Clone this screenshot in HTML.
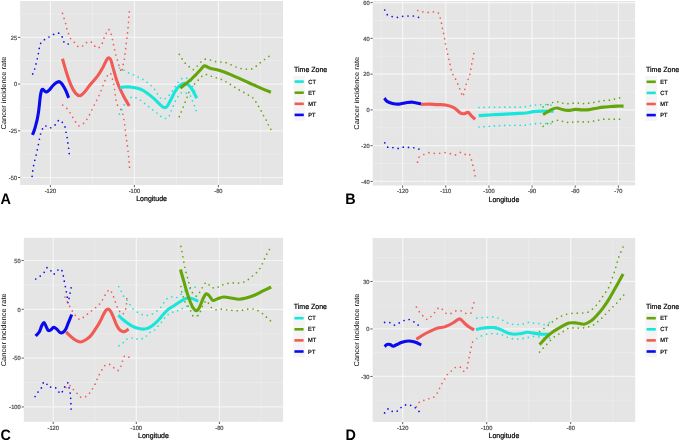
<!DOCTYPE html>
<html><head><meta charset="utf-8"><style>
html,body{margin:0;padding:0;background:#fff;}
body{width:680px;height:440px;overflow:hidden;}
svg{display:block;font-family:"Liberation Sans", sans-serif;will-change:transform;filter:blur(0.25px);}
svg text{text-rendering:geometricPrecision;}
</style></head><body>
<svg width="680" height="440" viewBox="0 0 680 440">
<rect width="680" height="440" fill="#fff"/>
<clipPath id="clipA"><rect x="20.20" y="1.00" width="262.80" height="184.00"/></clipPath>
<rect x="20.20" y="1.00" width="262.80" height="184.00" fill="#E5E5E5"/>
<g clip-path="url(#clipA)"><line x1="92.40" y1="1.00" x2="92.40" y2="185.00" stroke="#ECECEC" stroke-width="0.8"/><line x1="176.40" y1="1.00" x2="176.40" y2="185.00" stroke="#ECECEC" stroke-width="0.8"/><line x1="260.40" y1="1.00" x2="260.40" y2="185.00" stroke="#ECECEC" stroke-width="0.8"/><line x1="20.20" y1="14.05" x2="283.00" y2="14.05" stroke="#ECECEC" stroke-width="0.8"/><line x1="20.20" y1="60.75" x2="283.00" y2="60.75" stroke="#ECECEC" stroke-width="0.8"/><line x1="20.20" y1="107.45" x2="283.00" y2="107.45" stroke="#ECECEC" stroke-width="0.8"/><line x1="20.20" y1="154.15" x2="283.00" y2="154.15" stroke="#ECECEC" stroke-width="0.8"/><line x1="50.40" y1="1.00" x2="50.40" y2="185.00" stroke="#F5F5F5" stroke-width="1.2"/><line x1="134.40" y1="1.00" x2="134.40" y2="185.00" stroke="#F5F5F5" stroke-width="1.2"/><line x1="218.40" y1="1.00" x2="218.40" y2="185.00" stroke="#F5F5F5" stroke-width="1.2"/><line x1="20.20" y1="37.40" x2="283.00" y2="37.40" stroke="#F5F5F5" stroke-width="1.2"/><line x1="20.20" y1="84.10" x2="283.00" y2="84.10" stroke="#F5F5F5" stroke-width="1.2"/><line x1="20.20" y1="130.80" x2="283.00" y2="130.80" stroke="#F5F5F5" stroke-width="1.2"/><line x1="20.20" y1="177.50" x2="283.00" y2="177.50" stroke="#F5F5F5" stroke-width="1.2"/>
<path d="M32.70 73.90h0M34.66 69.00h0M36.01 63.89h0M37.26 58.76h0M38.36 53.59h0M39.25 48.38h0M40.68 43.32h0M44.45 39.68h0M49.00 37.01h0M53.62 34.47h0M58.69 33.17h0M62.17 36.91h0M63.88 41.87h0M68.20 44.00h0" fill="none" stroke="#0A0AEE" stroke-width="1.70" stroke-linecap="round"/>
<path d="M32.10 176.30h0M32.77 170.94h0M33.58 165.61h0M34.78 160.35h0M36.10 155.12h0M37.26 149.84h0M38.37 144.56h0M39.42 139.27h0M40.55 133.99h0M42.47 128.96h0M45.90 126.01h0M50.71 127.76h0M55.09 124.97h0M58.31 120.65h0M62.33 122.31h0M64.99 126.97h0M66.03 132.26h0M67.11 137.55h0M67.89 142.89h0M68.60 148.24h0M69.20 153.60h0" fill="none" stroke="#0A0AEE" stroke-width="1.70" stroke-linecap="round"/>
<path d="M62.50 13.40h0M64.04 18.47h0M65.61 23.53h0M66.81 28.69h0M68.48 33.72h0M70.60 38.57h0M74.29 42.32h0M77.76 46.29h0M82.64 46.02h0M86.55 42.53h0M91.34 42.20h0M94.75 46.22h0M99.24 47.46h0M102.33 43.20h0M103.99 38.18h0M106.21 33.36h0M108.92 29.68h0M111.30 34.31h0M112.43 39.48h0M113.52 44.67h0M114.65 49.85h0M115.92 54.99h0M117.35 60.09h0M118.89 65.17h0M120.68 70.15h0M122.31 69.60h0M123.23 64.40h0M124.36 59.23h0M125.02 53.97h0M125.66 48.71h0M126.29 43.45h0M126.91 38.19h0M127.52 32.92h0M128.07 27.65h0M128.50 22.37h0M128.89 17.08h0M129.30 11.80h0" fill="none" stroke="#F25A55" stroke-width="1.70" stroke-linecap="round"/>
<path d="M62.70 105.10h0M66.84 108.46h0M70.02 112.74h0M72.74 117.33h0M75.53 121.89h0M79.01 125.82h0M83.54 123.42h0M86.89 119.28h0M89.50 114.63h0M91.89 109.85h0M94.27 105.07h0M96.66 100.29h0M99.05 95.52h0M101.06 90.57h0M102.97 85.59h0M104.95 80.63h0M107.32 75.85h0M110.80 73.96h0M112.44 79.04h0M113.64 84.24h0M114.58 89.50h0M115.24 94.80h0M115.97 100.09h0M117.45 105.19h0M120.74 109.38h0M122.88 114.25h0M123.89 119.49h0M124.70 124.76h0M125.26 130.08h0M125.86 135.38h0M126.65 140.66h0M127.43 145.94h0M128.07 151.25h0M128.62 156.56h0M129.08 161.88h0M129.50 167.20h0" fill="none" stroke="#F25A55" stroke-width="1.70" stroke-linecap="round"/>
<path d="M119.40 68.00h0M124.09 70.27h0M128.60 72.89h0M133.43 74.86h0M138.14 77.08h0M142.84 79.31h0M147.12 82.28h0M151.21 85.52h0M154.62 89.46h0M157.40 93.86h0M160.54 98.00h0M165.19 98.50h0M169.15 95.13h0M172.30 90.97h0M175.18 86.63h0M178.02 82.26h0M181.77 78.70h0M186.78 78.14h0M190.57 81.52h0M192.56 86.34h0M194.49 91.19h0M196.50 96.00h0" fill="none" stroke="#18E6DA" stroke-width="1.70" stroke-linecap="round"/>
<path d="M119.40 114.20h0M121.88 109.63h0M124.16 104.97h0M127.00 100.63h0M131.00 97.39h0M136.00 97.65h0M140.48 100.25h0M144.60 103.40h0M148.65 106.65h0M152.73 109.87h0M156.87 113.00h0M160.82 116.37h0M165.53 118.31h0M169.36 115.58h0M171.24 110.74h0M173.19 105.93h0M175.39 101.22h0M177.94 96.70h0M181.35 92.83h0M186.30 93.14h0M190.52 96.10h0M192.42 100.89h0M194.39 105.70h0M196.10 110.60h0" fill="none" stroke="#18E6DA" stroke-width="1.70" stroke-linecap="round"/>
<path d="M179.30 54.30h0M182.06 58.88h0M185.22 63.19h0M189.23 66.72h0M193.31 69.53h0M197.30 66.00h0M200.88 62.03h0M205.24 59.21h0M210.50 60.07h0M215.61 61.62h0M220.94 62.01h0M226.16 62.71h0M231.06 64.85h0M235.95 66.99h0M241.06 68.56h0M246.37 69.11h0M251.71 68.92h0M256.24 66.22h0M260.24 62.67h0M264.54 59.49h0M268.90 56.40h0" fill="none" stroke="#64A60A" stroke-width="1.70" stroke-linecap="round"/>
<path d="M179.30 116.70h0M181.29 111.88h0M183.19 107.03h0M185.17 102.21h0M187.06 97.35h0M188.88 92.47h0M191.30 87.86h0M194.63 83.88h0M198.24 80.13h0M201.83 76.37h0M206.47 74.60h0M211.41 76.25h0M216.39 77.77h0M221.33 79.42h0M226.00 81.73h0M230.43 84.47h0M234.79 87.33h0M239.31 89.92h0M243.85 92.47h0M248.39 95.03h0M252.78 97.73h0M255.88 101.91h0M258.55 106.39h0M261.17 110.89h0M263.51 115.55h0M266.17 120.03h0M268.34 124.76h0M270.90 129.30h0" fill="none" stroke="#64A60A" stroke-width="1.70" stroke-linecap="round"/>
<path d="M32.4,134.9 C32.7,134.2 33.7,132.1 34.2,130.5 C34.8,128.9 35.2,127.1 35.7,125.3 C36.2,123.5 36.8,121.5 37.2,119.4 C37.7,117.3 38.0,115.2 38.4,112.7 C38.8,110.2 39.1,107.4 39.4,104.6 C39.7,101.8 40.0,98.1 40.4,95.7 C40.8,93.3 41.2,91.3 41.6,90.2 C42.0,89.1 42.3,89.2 42.8,89.3 C43.3,89.4 44.0,90.5 44.6,91.0 C45.2,91.5 45.7,92.2 46.5,92.0 C47.3,91.8 48.2,91.0 49.4,89.8 C50.6,88.6 52.4,85.9 53.9,84.6 C55.4,83.2 57.1,82.0 58.3,81.7 C59.5,81.5 60.3,82.1 61.3,83.1 C62.3,84.1 63.3,86.0 64.2,87.6 C65.1,89.2 66.1,91.1 66.8,92.8 C67.5,94.5 68.3,97.1 68.6,97.9" fill="none" stroke="#0A0AEE" stroke-width="3.10" stroke-linejoin="round"/>
<path d="M62.5,58.8 C63.2,61.2 65.2,68.5 66.6,73.0 C68.0,77.5 69.6,82.1 71.1,85.5 C72.6,88.9 74.2,91.7 75.7,93.4 C77.2,95.1 78.7,96.0 80.2,95.7 C81.7,95.4 83.1,93.7 84.8,91.8 C86.5,89.9 88.4,86.9 90.5,84.3 C92.6,81.7 95.2,79.2 97.3,76.4 C99.4,73.6 101.3,70.3 103.0,67.3 C104.7,64.3 106.2,59.9 107.5,58.6 C108.8,57.3 109.5,57.7 110.5,59.3 C111.5,60.9 112.0,64.4 113.2,68.4 C114.4,72.4 116.0,78.7 117.7,83.2 C119.4,87.8 121.5,91.9 123.4,95.7 C125.3,99.5 128.3,104.3 129.3,106.0" fill="none" stroke="#F25A55" stroke-width="3.10" stroke-linejoin="round"/>
<path d="M120.0,87.5 C120.7,87.4 122.4,87.1 124.1,87.0 C125.8,86.9 128.1,86.8 130.2,87.0 C132.2,87.2 134.3,87.6 136.4,88.1 C138.5,88.6 140.5,89.1 142.5,90.1 C144.5,91.1 146.5,92.7 148.6,94.2 C150.7,95.7 152.9,97.6 154.8,99.3 C156.7,101.0 158.4,103.0 159.9,104.4 C161.4,105.8 162.8,107.2 164.0,107.5 C165.2,107.8 165.8,107.9 167.0,106.5 C168.2,105.1 169.7,101.9 171.1,99.3 C172.5,96.7 173.8,93.3 175.2,91.1 C176.6,88.9 177.8,87.3 179.3,86.0 C180.8,84.7 182.9,83.6 184.4,83.4 C185.9,83.2 187.1,83.9 188.5,85.0 C189.9,86.1 191.2,87.9 192.6,90.1 C194.0,92.3 196.0,96.9 196.7,98.3" fill="none" stroke="#18E6DA" stroke-width="3.10" stroke-linejoin="round"/>
<path d="M180.3,88.1 C181.2,87.4 183.8,85.4 185.5,84.0 C187.2,82.6 188.9,81.4 190.6,79.9 C192.3,78.4 194.0,76.5 195.7,74.8 C197.4,73.1 199.3,71.0 200.8,69.5 C202.3,68.0 202.9,66.1 204.5,65.9 C206.1,65.7 207.5,67.4 210.2,68.2 C212.9,69.0 217.3,69.7 220.5,70.7 C223.7,71.7 226.1,72.7 229.5,74.1 C232.9,75.5 237.1,77.4 240.9,79.1 C244.7,80.8 248.9,82.8 252.3,84.3 C255.7,85.8 258.3,87.1 261.4,88.4 C264.5,89.7 269.3,91.7 270.9,92.3" fill="none" stroke="#64A60A" stroke-width="3.10" stroke-linejoin="round"/>
</g>
<line x1="18.00" y1="37.40" x2="20.20" y2="37.40" stroke="#333" stroke-width="0.80"/>
<text transform="translate(17.10,39.75) scale(1,1.050)" text-anchor="end" font-size="5.70" fill="#4D4D4D" stroke="#4D4D4D" stroke-width="0.20">25</text>
<line x1="18.00" y1="84.10" x2="20.20" y2="84.10" stroke="#333" stroke-width="0.80"/>
<text transform="translate(17.10,86.45) scale(1,1.050)" text-anchor="end" font-size="5.70" fill="#4D4D4D" stroke="#4D4D4D" stroke-width="0.20">0</text>
<line x1="18.00" y1="130.80" x2="20.20" y2="130.80" stroke="#333" stroke-width="0.80"/>
<text transform="translate(17.10,133.15) scale(1,1.050)" text-anchor="end" font-size="5.70" fill="#4D4D4D" stroke="#4D4D4D" stroke-width="0.20">-25</text>
<line x1="18.00" y1="177.50" x2="20.20" y2="177.50" stroke="#333" stroke-width="0.80"/>
<text transform="translate(17.10,179.85) scale(1,1.050)" text-anchor="end" font-size="5.70" fill="#4D4D4D" stroke="#4D4D4D" stroke-width="0.20">-50</text>
<line x1="50.40" y1="185.00" x2="50.40" y2="187.20" stroke="#333" stroke-width="0.80"/>
<text transform="translate(50.40,192.90) scale(1,1.050)" text-anchor="middle" font-size="5.70" fill="#4D4D4D" stroke="#4D4D4D" stroke-width="0.20">-120</text>
<line x1="134.40" y1="185.00" x2="134.40" y2="187.20" stroke="#333" stroke-width="0.80"/>
<text transform="translate(134.40,192.90) scale(1,1.050)" text-anchor="middle" font-size="5.70" fill="#4D4D4D" stroke="#4D4D4D" stroke-width="0.20">-100</text>
<line x1="218.40" y1="185.00" x2="218.40" y2="187.20" stroke="#333" stroke-width="0.80"/>
<text transform="translate(218.40,192.90) scale(1,1.050)" text-anchor="middle" font-size="5.70" fill="#4D4D4D" stroke="#4D4D4D" stroke-width="0.20">-80</text>
<text transform="translate(151.60,201.00) scale(1,1.050)" text-anchor="middle" font-size="7.00" fill="#000" stroke="#000" stroke-width="0.20">Longitude</text>
<text transform="translate(6.00,93.00) rotate(-90)" text-anchor="middle" font-size="7.00" fill="#000" textLength="73.0" lengthAdjust="spacingAndGlyphs">Cancer incidence rate</text>
<text transform="translate(294.00,72.10) scale(1,1.050)" font-size="7.00" fill="#000" stroke="#000" stroke-width="0.20">Time Zone</text>
<rect x="293.50" y="76.00" width="11.5" height="44.6" fill="#F5F5F5"/>
<line x1="294.60" y1="81.60" x2="303.80" y2="81.60" stroke="#18E6DA" stroke-width="2.6"/>
<text transform="translate(308.30,83.65) scale(1,1.050)" font-size="5.70" fill="#000" stroke="#000" stroke-width="0.20">CT</text>
<line x1="294.60" y1="92.70" x2="303.80" y2="92.70" stroke="#64A60A" stroke-width="2.6"/>
<text transform="translate(308.30,94.75) scale(1,1.050)" font-size="5.70" fill="#000" stroke="#000" stroke-width="0.20">ET</text>
<line x1="294.60" y1="103.80" x2="303.80" y2="103.80" stroke="#F25A55" stroke-width="2.6"/>
<text transform="translate(308.30,105.85) scale(1,1.050)" font-size="5.70" fill="#000" stroke="#000" stroke-width="0.20">MT</text>
<line x1="294.60" y1="114.90" x2="303.80" y2="114.90" stroke="#0A0AEE" stroke-width="2.6"/>
<text transform="translate(308.30,116.95) scale(1,1.050)" font-size="5.70" fill="#000" stroke="#000" stroke-width="0.20">PT</text>
<text transform="translate(0.60,204.00) scale(1,1.050)" font-weight="bold" font-size="14.40" fill="#000">A</text>
<clipPath id="clipB"><rect x="372.70" y="1.00" width="262.40" height="184.50"/></clipPath>
<rect x="372.70" y="1.00" width="262.40" height="184.50" fill="#E5E5E5"/>
<g clip-path="url(#clipB)"><line x1="381.02" y1="1.00" x2="381.02" y2="185.50" stroke="#ECECEC" stroke-width="0.8"/><line x1="424.18" y1="1.00" x2="424.18" y2="185.50" stroke="#ECECEC" stroke-width="0.8"/><line x1="467.34" y1="1.00" x2="467.34" y2="185.50" stroke="#ECECEC" stroke-width="0.8"/><line x1="510.50" y1="1.00" x2="510.50" y2="185.50" stroke="#ECECEC" stroke-width="0.8"/><line x1="553.66" y1="1.00" x2="553.66" y2="185.50" stroke="#ECECEC" stroke-width="0.8"/><line x1="596.82" y1="1.00" x2="596.82" y2="185.50" stroke="#ECECEC" stroke-width="0.8"/><line x1="372.70" y1="20.50" x2="635.10" y2="20.50" stroke="#ECECEC" stroke-width="0.8"/><line x1="372.70" y1="56.26" x2="635.10" y2="56.26" stroke="#ECECEC" stroke-width="0.8"/><line x1="372.70" y1="92.02" x2="635.10" y2="92.02" stroke="#ECECEC" stroke-width="0.8"/><line x1="372.70" y1="127.78" x2="635.10" y2="127.78" stroke="#ECECEC" stroke-width="0.8"/><line x1="372.70" y1="163.54" x2="635.10" y2="163.54" stroke="#ECECEC" stroke-width="0.8"/><line x1="402.60" y1="1.00" x2="402.60" y2="185.50" stroke="#F5F5F5" stroke-width="1.2"/><line x1="445.76" y1="1.00" x2="445.76" y2="185.50" stroke="#F5F5F5" stroke-width="1.2"/><line x1="488.92" y1="1.00" x2="488.92" y2="185.50" stroke="#F5F5F5" stroke-width="1.2"/><line x1="532.08" y1="1.00" x2="532.08" y2="185.50" stroke="#F5F5F5" stroke-width="1.2"/><line x1="575.24" y1="1.00" x2="575.24" y2="185.50" stroke="#F5F5F5" stroke-width="1.2"/><line x1="618.40" y1="1.00" x2="618.40" y2="185.50" stroke="#F5F5F5" stroke-width="1.2"/><line x1="372.70" y1="2.62" x2="635.10" y2="2.62" stroke="#F5F5F5" stroke-width="1.2"/><line x1="372.70" y1="38.38" x2="635.10" y2="38.38" stroke="#F5F5F5" stroke-width="1.2"/><line x1="372.70" y1="74.14" x2="635.10" y2="74.14" stroke="#F5F5F5" stroke-width="1.2"/><line x1="372.70" y1="109.90" x2="635.10" y2="109.90" stroke="#F5F5F5" stroke-width="1.2"/><line x1="372.70" y1="145.66" x2="635.10" y2="145.66" stroke="#F5F5F5" stroke-width="1.2"/><line x1="372.70" y1="181.42" x2="635.10" y2="181.42" stroke="#F5F5F5" stroke-width="1.2"/>
<path d="M384.70 10.00h0M387.27 14.66h0M392.16 16.54h0M397.43 17.28h0M402.67 16.34h0M408.00 15.98h0M413.33 16.00h0M418.50 17.30h0" fill="none" stroke="#0A0AEE" stroke-width="1.70" stroke-linecap="round"/>
<path d="M384.80 142.80h0M387.74 147.16h0M392.92 147.62h0M398.10 148.38h0M403.23 147.15h0M408.51 147.42h0M413.79 147.75h0M418.90 149.10h0" fill="none" stroke="#0A0AEE" stroke-width="1.70" stroke-linecap="round"/>
<path d="M417.80 10.50h0M422.92 11.80h0M428.16 12.40h0M433.39 11.79h0M438.40 13.10h0M440.26 17.99h0M441.46 23.13h0M442.42 28.32h0M443.64 33.46h0M444.59 38.65h0M445.44 43.86h0M446.66 49.00h0M447.72 54.17h0M448.92 59.32h0M450.08 64.47h0M451.11 69.65h0M452.95 74.58h0M455.56 79.17h0M457.76 83.96h0M459.70 88.87h0M461.59 93.80h0M463.61 94.46h0M464.78 89.31h0M466.19 84.23h0M468.07 79.29h0M469.89 74.35h0M470.78 69.14h0M471.72 63.95h0M472.96 58.81h0M473.80 53.60h0" fill="none" stroke="#F25A55" stroke-width="1.70" stroke-linecap="round"/>
<path d="M417.50 162.20h0M419.09 157.09h0M423.82 154.49h0M428.92 152.65h0M434.27 153.36h0M439.70 153.24h0M445.08 152.60h0M450.40 153.63h0M455.53 154.92h0M460.37 152.47h0M465.17 154.41h0M469.81 154.77h0M471.48 159.92h0M472.84 165.18h0M474.20 170.44h0M475.10 175.80h0" fill="none" stroke="#F25A55" stroke-width="1.70" stroke-linecap="round"/>
<path d="M479.00 107.50h0M484.15 107.42h0M489.30 107.34h0M494.46 107.28h0M499.61 107.25h0M504.76 107.21h0M509.91 107.17h0M515.06 107.14h0M520.22 107.07h0M525.35 106.71h0M530.40 105.69h0M535.50 104.98h0M540.64 104.63h0M545.78 104.61h0M550.90 105.20h0" fill="none" stroke="#18E6DA" stroke-width="1.70" stroke-linecap="round"/>
<path d="M479.00 127.00h0M484.14 126.64h0M489.27 126.29h0M494.41 125.97h0M499.55 125.66h0M504.69 125.44h0M509.84 125.35h0M514.99 125.35h0M520.14 125.34h0M525.27 125.06h0M530.36 124.25h0M535.47 123.65h0M540.61 123.35h0M545.75 123.44h0M550.90 123.60h0" fill="none" stroke="#18E6DA" stroke-width="1.70" stroke-linecap="round"/>
<path d="M543.10 106.80h0M547.83 104.60h0M552.61 102.52h0M557.76 101.83h0M562.81 103.04h0M567.97 103.65h0M573.16 103.20h0M578.34 103.12h0M583.52 103.60h0M588.72 103.16h0M593.88 102.43h0M598.99 101.38h0M604.14 100.51h0M609.34 100.13h0M614.45 99.12h0M619.50 97.80h0" fill="none" stroke="#64A60A" stroke-width="1.70" stroke-linecap="round"/>
<path d="M543.10 126.30h0M547.57 123.61h0M552.43 121.71h0M557.43 120.23h0M562.47 121.37h0M567.59 122.34h0M572.79 122.06h0M577.97 121.63h0M583.18 121.94h0M588.40 121.81h0M593.57 121.09h0M598.69 120.04h0M603.83 119.16h0M609.05 119.20h0M614.28 119.20h0M619.50 119.20h0" fill="none" stroke="#64A60A" stroke-width="1.70" stroke-linecap="round"/>
<path d="M384.3,98.1 C384.8,98.6 385.6,100.5 387.0,101.4 C388.4,102.3 390.4,103.0 392.5,103.5 C394.6,104.0 397.0,104.2 399.3,104.1 C401.6,104.0 403.8,103.0 406.1,102.7 C408.4,102.4 410.4,102.0 412.9,102.2 C415.4,102.4 419.7,103.8 421.1,104.1" fill="none" stroke="#0A0AEE" stroke-width="3.10" stroke-linejoin="round"/>
<path d="M421.1,104.4 C422.5,104.4 426.6,104.1 429.3,104.1 C432.0,104.1 434.8,104.5 437.5,104.6 C440.2,104.7 442.9,104.4 445.6,104.9 C448.3,105.4 451.3,106.2 453.8,107.6 C456.3,109.0 458.8,112.1 460.6,113.1 C462.4,114.1 463.5,113.7 464.7,113.6 C465.9,113.5 466.9,111.9 468.0,112.3 C469.1,112.7 470.3,114.6 471.5,115.8 C472.7,117.0 474.5,118.7 475.1,119.3" fill="none" stroke="#F25A55" stroke-width="3.10" stroke-linejoin="round"/>
<path d="M478.6,115.7 C480.9,115.5 487.8,115.1 492.3,114.8 C496.9,114.5 501.4,114.3 505.9,114.1 C510.4,113.9 515.9,113.6 519.5,113.4 C523.1,113.2 525.4,113.0 527.7,112.7 C530.0,112.4 530.9,111.9 533.2,111.6 C535.5,111.3 538.0,111.2 541.4,111.1 C544.8,111.0 551.6,111.1 553.6,111.1" fill="none" stroke="#18E6DA" stroke-width="3.10" stroke-linejoin="round"/>
<path d="M543.1,114.6 C543.8,114.2 545.7,113.0 547.1,112.2 C548.5,111.4 549.7,110.3 551.3,109.6 C552.9,108.9 555.0,108.0 556.9,108.0 C558.8,108.0 560.7,109.2 562.6,109.6 C564.5,110.0 566.1,110.4 568.2,110.4 C570.3,110.4 572.9,109.5 575.3,109.4 C577.7,109.3 580.0,109.9 582.4,109.9 C584.8,109.9 587.0,109.9 589.4,109.6 C591.8,109.3 594.1,108.6 596.5,108.2 C598.9,107.8 601.1,107.4 603.5,107.1 C605.9,106.8 608.2,106.7 610.6,106.5 C613.0,106.3 615.5,106.2 617.7,106.1 C619.9,106.0 622.6,106.1 623.6,106.1" fill="none" stroke="#64A60A" stroke-width="3.10" stroke-linejoin="round"/>
</g>
<line x1="370.50" y1="2.62" x2="372.70" y2="2.62" stroke="#333" stroke-width="0.80"/>
<text transform="translate(369.60,4.97) scale(1,1.050)" text-anchor="end" font-size="5.70" fill="#4D4D4D" stroke="#4D4D4D" stroke-width="0.20">60</text>
<line x1="370.50" y1="38.38" x2="372.70" y2="38.38" stroke="#333" stroke-width="0.80"/>
<text transform="translate(369.60,40.73) scale(1,1.050)" text-anchor="end" font-size="5.70" fill="#4D4D4D" stroke="#4D4D4D" stroke-width="0.20">40</text>
<line x1="370.50" y1="74.14" x2="372.70" y2="74.14" stroke="#333" stroke-width="0.80"/>
<text transform="translate(369.60,76.49) scale(1,1.050)" text-anchor="end" font-size="5.70" fill="#4D4D4D" stroke="#4D4D4D" stroke-width="0.20">20</text>
<line x1="370.50" y1="109.90" x2="372.70" y2="109.90" stroke="#333" stroke-width="0.80"/>
<text transform="translate(369.60,112.25) scale(1,1.050)" text-anchor="end" font-size="5.70" fill="#4D4D4D" stroke="#4D4D4D" stroke-width="0.20">0</text>
<line x1="370.50" y1="145.66" x2="372.70" y2="145.66" stroke="#333" stroke-width="0.80"/>
<text transform="translate(369.60,148.01) scale(1,1.050)" text-anchor="end" font-size="5.70" fill="#4D4D4D" stroke="#4D4D4D" stroke-width="0.20">-20</text>
<line x1="370.50" y1="181.42" x2="372.70" y2="181.42" stroke="#333" stroke-width="0.80"/>
<text transform="translate(369.60,183.77) scale(1,1.050)" text-anchor="end" font-size="5.70" fill="#4D4D4D" stroke="#4D4D4D" stroke-width="0.20">-40</text>
<line x1="402.60" y1="185.50" x2="402.60" y2="187.70" stroke="#333" stroke-width="0.80"/>
<text transform="translate(402.60,193.40) scale(1,1.050)" text-anchor="middle" font-size="5.70" fill="#4D4D4D" stroke="#4D4D4D" stroke-width="0.20">-120</text>
<line x1="445.76" y1="185.50" x2="445.76" y2="187.70" stroke="#333" stroke-width="0.80"/>
<text transform="translate(445.76,193.40) scale(1,1.050)" text-anchor="middle" font-size="5.70" fill="#4D4D4D" stroke="#4D4D4D" stroke-width="0.20">-110</text>
<line x1="488.92" y1="185.50" x2="488.92" y2="187.70" stroke="#333" stroke-width="0.80"/>
<text transform="translate(488.92,193.40) scale(1,1.050)" text-anchor="middle" font-size="5.70" fill="#4D4D4D" stroke="#4D4D4D" stroke-width="0.20">-100</text>
<line x1="532.08" y1="185.50" x2="532.08" y2="187.70" stroke="#333" stroke-width="0.80"/>
<text transform="translate(532.08,193.40) scale(1,1.050)" text-anchor="middle" font-size="5.70" fill="#4D4D4D" stroke="#4D4D4D" stroke-width="0.20">-90</text>
<line x1="575.24" y1="185.50" x2="575.24" y2="187.70" stroke="#333" stroke-width="0.80"/>
<text transform="translate(575.24,193.40) scale(1,1.050)" text-anchor="middle" font-size="5.70" fill="#4D4D4D" stroke="#4D4D4D" stroke-width="0.20">-80</text>
<line x1="618.40" y1="185.50" x2="618.40" y2="187.70" stroke="#333" stroke-width="0.80"/>
<text transform="translate(618.40,193.40) scale(1,1.050)" text-anchor="middle" font-size="5.70" fill="#4D4D4D" stroke="#4D4D4D" stroke-width="0.20">-70</text>
<text transform="translate(503.90,201.50) scale(1,1.050)" text-anchor="middle" font-size="7.00" fill="#000" stroke="#000" stroke-width="0.20">Longitude</text>
<text transform="translate(358.50,93.25) rotate(-90)" text-anchor="middle" font-size="7.00" fill="#000" textLength="73.0" lengthAdjust="spacingAndGlyphs">Cancer incidence rate</text>
<text transform="translate(646.00,72.00) scale(1,1.050)" font-size="7.00" fill="#000" stroke="#000" stroke-width="0.20">Time Zone</text>
<rect x="645.50" y="76.20" width="11.5" height="44.6" fill="#F5F5F5"/>
<line x1="646.60" y1="81.80" x2="655.80" y2="81.80" stroke="#64A60A" stroke-width="2.6"/>
<text transform="translate(660.30,83.85) scale(1,1.050)" font-size="5.70" fill="#000" stroke="#000" stroke-width="0.20">ET</text>
<line x1="646.60" y1="92.90" x2="655.80" y2="92.90" stroke="#18E6DA" stroke-width="2.6"/>
<text transform="translate(660.30,94.95) scale(1,1.050)" font-size="5.70" fill="#000" stroke="#000" stroke-width="0.20">CT</text>
<line x1="646.60" y1="104.00" x2="655.80" y2="104.00" stroke="#F25A55" stroke-width="2.6"/>
<text transform="translate(660.30,106.05) scale(1,1.050)" font-size="5.70" fill="#000" stroke="#000" stroke-width="0.20">MT</text>
<line x1="646.60" y1="115.10" x2="655.80" y2="115.10" stroke="#0A0AEE" stroke-width="2.6"/>
<text transform="translate(660.30,117.15) scale(1,1.050)" font-size="5.70" fill="#000" stroke="#000" stroke-width="0.20">PT</text>
<text transform="translate(345.30,204.00) scale(1,1.050)" font-weight="bold" font-size="14.40" fill="#000">B</text>
<clipPath id="clipC"><rect x="23.80" y="237.80" width="259.30" height="184.00"/></clipPath>
<rect x="23.80" y="237.80" width="259.30" height="184.00" fill="#E5E5E5"/>
<g clip-path="url(#clipC)"><line x1="94.75" y1="237.80" x2="94.75" y2="421.80" stroke="#ECECEC" stroke-width="0.8"/><line x1="177.85" y1="237.80" x2="177.85" y2="421.80" stroke="#ECECEC" stroke-width="0.8"/><line x1="260.95" y1="237.80" x2="260.95" y2="421.80" stroke="#ECECEC" stroke-width="0.8"/><line x1="23.80" y1="284.89" x2="283.10" y2="284.89" stroke="#ECECEC" stroke-width="0.8"/><line x1="23.80" y1="333.71" x2="283.10" y2="333.71" stroke="#ECECEC" stroke-width="0.8"/><line x1="23.80" y1="382.52" x2="283.10" y2="382.52" stroke="#ECECEC" stroke-width="0.8"/><line x1="53.20" y1="237.80" x2="53.20" y2="421.80" stroke="#F5F5F5" stroke-width="1.2"/><line x1="136.30" y1="237.80" x2="136.30" y2="421.80" stroke="#F5F5F5" stroke-width="1.2"/><line x1="219.40" y1="237.80" x2="219.40" y2="421.80" stroke="#F5F5F5" stroke-width="1.2"/><line x1="23.80" y1="260.49" x2="283.10" y2="260.49" stroke="#F5F5F5" stroke-width="1.2"/><line x1="23.80" y1="309.30" x2="283.10" y2="309.30" stroke="#F5F5F5" stroke-width="1.2"/><line x1="23.80" y1="358.12" x2="283.10" y2="358.12" stroke="#F5F5F5" stroke-width="1.2"/><line x1="23.80" y1="406.93" x2="283.10" y2="406.93" stroke="#F5F5F5" stroke-width="1.2"/>
<path d="M35.70 279.00h0M40.23 276.03h0M44.17 272.32h0M46.96 267.72h0M50.96 270.85h0M54.24 273.94h0M57.89 270.00h0M61.97 270.64h0M63.33 275.88h0M64.30 281.21h0M65.34 286.54h0M66.33 291.87h0M67.21 297.21h0M67.84 302.60h0M69.02 298.44h0M70.06 293.12h0M71.10 287.80h0" fill="none" stroke="#0A0AEE" stroke-width="1.70" stroke-linecap="round"/>
<path d="M35.10 396.50h0M38.01 392.03h0M41.39 387.92h0M43.26 382.95h0M46.98 384.23h0M50.66 387.07h0M55.73 387.93h0M58.93 392.06h0M62.36 391.72h0M64.65 386.93h0M67.76 382.82h0M69.07 387.82h0M70.15 393.04h0M70.70 398.34h0M70.90 403.67h0M71.10 409.00h0" fill="none" stroke="#0A0AEE" stroke-width="1.70" stroke-linecap="round"/>
<path d="M65.00 297.00h0M67.28 301.73h0M69.66 306.41h0M72.32 310.95h0M75.25 315.30h0M78.91 319.04h0M83.31 317.41h0M87.42 314.14h0M91.49 310.82h0M95.58 307.53h0M99.54 304.08h0M102.50 299.76h0M105.07 295.18h0M108.01 290.84h0M111.51 292.12h0M113.61 296.93h0M115.35 301.89h0M117.15 306.82h0M119.62 311.44h0M123.37 313.57h0M125.72 308.94h0M126.44 303.74h0M126.80 298.50h0" fill="none" stroke="#F25A55" stroke-width="1.70" stroke-linecap="round"/>
<path d="M65.90 387.50h0M69.95 385.60h0M73.38 389.58h0M77.04 393.35h0M80.59 397.10h0M85.69 396.62h0M89.58 393.11h0M92.51 388.75h0M95.04 384.13h0M97.06 379.28h0M99.32 374.53h0M101.89 369.94h0M104.80 365.57h0M109.70 364.38h0M113.74 367.65h0M118.09 370.46h0M120.92 366.26h0M122.49 361.24h0M124.29 356.31h0M128.90 357.20h0" fill="none" stroke="#F25A55" stroke-width="1.70" stroke-linecap="round"/>
<path d="M118.80 286.60h0M121.30 291.31h0M123.52 296.17h0M126.99 300.19h0M130.01 304.58h0M133.13 308.91h0M137.36 312.13h0M142.10 314.55h0M147.37 315.31h0M152.44 313.83h0M156.90 310.92h0M160.81 307.30h0M163.75 302.86h0M166.99 298.63h0M171.78 296.87h0M176.90 297.49h0M181.07 294.18h0M185.12 290.70h0M189.91 288.40h0M195.10 287.20h0" fill="none" stroke="#18E6DA" stroke-width="1.70" stroke-linecap="round"/>
<path d="M119.10 345.70h0M123.25 342.64h0M126.95 339.05h0M131.94 337.99h0M137.00 338.90h0M142.13 338.71h0M146.44 335.98h0M150.07 332.34h0M154.53 329.99h0M158.00 326.17h0M161.45 322.33h0M164.51 318.18h0M168.12 314.50h0M172.70 312.16h0M177.65 310.72h0M182.35 308.61h0M186.76 305.99h0M191.55 307.53h0M195.04 311.32h0M198.20 315.40h0" fill="none" stroke="#18E6DA" stroke-width="1.70" stroke-linecap="round"/>
<path d="M180.90 246.40h0M181.90 251.62h0M182.88 256.84h0M183.88 262.06h0M184.89 267.27h0M186.02 272.46h0M187.45 277.58h0M188.81 282.71h0M190.33 287.80h0M192.44 292.67h0M196.27 296.21h0M199.61 292.33h0M202.26 287.73h0M205.06 283.23h0M209.04 284.80h0M213.19 287.85h0M218.14 287.05h0M222.87 284.73h0M228.02 283.42h0M233.29 282.95h0M238.60 283.05h0M243.82 282.06h0M248.37 279.38h0M252.46 276.00h0M256.48 272.53h0M259.93 268.51h0M262.32 263.76h0M264.57 258.95h0M266.79 254.13h0M269.40 249.50h0" fill="none" stroke="#64A60A" stroke-width="1.70" stroke-linecap="round"/>
<path d="M180.90 286.50h0M181.75 291.75h0M183.33 296.83h0M185.04 301.86h0M188.07 306.17h0M190.70 310.78h0M192.69 315.70h0M197.37 315.73h0M200.40 311.43h0M202.36 306.50h0M205.02 301.95h0M208.46 303.16h0M211.36 307.49h0M216.07 309.75h0M221.33 309.14h0M226.62 309.73h0M231.90 310.37h0M237.21 310.68h0M242.50 310.21h0M247.72 309.19h0M253.03 309.02h0M258.05 310.67h0M262.48 313.60h0M266.40 317.19h0M270.40 320.70h0" fill="none" stroke="#64A60A" stroke-width="1.70" stroke-linecap="round"/>
<path d="M35.7,335.9 C36.3,335.2 38.4,333.5 39.4,331.8 C40.4,330.1 41.0,327.1 41.8,325.6 C42.5,324.1 43.2,322.5 43.9,322.6 C44.6,322.7 45.2,324.7 45.9,326.0 C46.6,327.3 47.5,330.0 48.3,330.6 C49.1,331.2 49.9,330.4 50.8,329.9 C51.7,329.4 52.7,327.5 53.7,327.4 C54.7,327.3 55.8,328.3 56.8,329.1 C57.8,329.9 58.8,331.8 59.8,332.4 C60.8,332.9 61.9,333.0 62.9,332.4 C63.9,331.8 65.1,330.3 66.0,328.7 C66.9,327.1 67.5,325.0 68.4,322.6 C69.4,320.2 71.2,315.8 71.7,314.4" fill="none" stroke="#0A0AEE" stroke-width="3.10" stroke-linejoin="round"/>
<path d="M66.0,331.8 C66.7,332.5 68.6,334.5 70.1,335.9 C71.6,337.3 73.5,339.0 75.2,340.0 C76.9,341.0 78.6,342.0 80.3,342.0 C82.0,342.0 83.7,341.0 85.4,340.0 C87.1,339.0 88.9,337.8 90.6,335.9 C92.3,334.0 94.1,331.1 95.7,328.7 C97.3,326.3 98.9,323.6 100.1,321.4 C101.3,319.1 102.1,317.1 103.1,315.2 C104.1,313.3 105.2,311.1 106.1,310.1 C107.0,309.1 107.8,308.8 108.6,309.1 C109.4,309.5 110.3,310.7 111.2,312.2 C112.1,313.7 113.0,316.1 113.9,318.3 C114.8,320.5 115.7,323.4 116.8,325.5 C117.9,327.6 119.2,329.6 120.5,330.6 C121.8,331.6 123.2,331.9 124.5,331.6 C125.8,331.4 127.9,329.5 128.6,329.1" fill="none" stroke="#F25A55" stroke-width="3.10" stroke-linejoin="round"/>
<path d="M118.4,315.2 C119.1,315.9 121.1,318.1 122.5,319.3 C123.9,320.5 125.1,321.3 126.6,322.4 C128.1,323.5 130.0,324.9 131.7,325.9 C133.4,326.8 134.9,327.6 136.8,328.1 C138.7,328.6 141.1,329.1 143.0,329.1 C144.9,329.1 146.4,328.8 148.1,328.1 C149.8,327.4 151.5,326.3 153.2,325.0 C154.9,323.7 156.6,322.1 158.3,320.3 C160.0,318.5 161.7,316.1 163.4,314.2 C165.1,312.3 166.8,310.5 168.5,309.1 C170.2,307.7 171.9,307.1 173.6,306.0 C175.3,304.9 177.0,303.6 178.7,302.5 C180.4,301.4 182.6,300.1 183.9,299.4 C185.2,298.7 185.6,298.5 186.8,298.3 C188.0,298.1 189.5,298.1 190.9,298.3 C192.3,298.5 193.9,299.2 195.1,299.7 C196.3,300.2 197.7,301.1 198.2,301.4" fill="none" stroke="#18E6DA" stroke-width="3.10" stroke-linejoin="round"/>
<path d="M180.5,269.5 C181.0,271.5 182.7,277.4 183.8,281.2 C184.8,285.1 185.9,289.0 187.0,292.5 C188.1,296.0 189.4,299.8 190.5,302.5 C191.6,305.2 192.7,307.4 193.8,308.8 C194.8,310.1 196.0,310.9 197.0,310.5 C198.0,310.1 199.0,308.2 200.0,306.2 C201.0,304.3 202.0,300.8 203.0,298.8 C204.0,296.7 205.2,294.2 206.2,293.8 C207.3,293.3 208.4,295.1 209.5,296.2 C210.6,297.4 211.7,300.1 213.0,300.5 C214.3,300.9 215.7,299.3 217.5,298.8 C219.3,298.2 221.5,297.1 223.8,297.0 C226.0,296.9 228.8,297.6 231.2,298.0 C233.8,298.4 236.2,299.2 238.8,299.2 C241.2,299.2 243.8,298.6 246.2,298.0 C248.8,297.4 251.0,296.6 253.8,295.5 C256.5,294.4 259.6,292.7 262.5,291.2 C265.4,289.8 269.8,287.7 271.2,287.0" fill="none" stroke="#64A60A" stroke-width="3.10" stroke-linejoin="round"/>
</g>
<line x1="21.60" y1="260.49" x2="23.80" y2="260.49" stroke="#333" stroke-width="0.80"/>
<text transform="translate(20.70,262.84) scale(1,1.050)" text-anchor="end" font-size="5.70" fill="#4D4D4D" stroke="#4D4D4D" stroke-width="0.20">50</text>
<line x1="21.60" y1="309.30" x2="23.80" y2="309.30" stroke="#333" stroke-width="0.80"/>
<text transform="translate(20.70,311.65) scale(1,1.050)" text-anchor="end" font-size="5.70" fill="#4D4D4D" stroke="#4D4D4D" stroke-width="0.20">0</text>
<line x1="21.60" y1="358.12" x2="23.80" y2="358.12" stroke="#333" stroke-width="0.80"/>
<text transform="translate(20.70,360.47) scale(1,1.050)" text-anchor="end" font-size="5.70" fill="#4D4D4D" stroke="#4D4D4D" stroke-width="0.20">-50</text>
<line x1="21.60" y1="406.93" x2="23.80" y2="406.93" stroke="#333" stroke-width="0.80"/>
<text transform="translate(20.70,409.28) scale(1,1.050)" text-anchor="end" font-size="5.70" fill="#4D4D4D" stroke="#4D4D4D" stroke-width="0.20">-100</text>
<line x1="53.20" y1="421.80" x2="53.20" y2="424.00" stroke="#333" stroke-width="0.80"/>
<text transform="translate(53.20,429.70) scale(1,1.050)" text-anchor="middle" font-size="5.70" fill="#4D4D4D" stroke="#4D4D4D" stroke-width="0.20">-120</text>
<line x1="136.30" y1="421.80" x2="136.30" y2="424.00" stroke="#333" stroke-width="0.80"/>
<text transform="translate(136.30,429.70) scale(1,1.050)" text-anchor="middle" font-size="5.70" fill="#4D4D4D" stroke="#4D4D4D" stroke-width="0.20">-100</text>
<line x1="219.40" y1="421.80" x2="219.40" y2="424.00" stroke="#333" stroke-width="0.80"/>
<text transform="translate(219.40,429.70) scale(1,1.050)" text-anchor="middle" font-size="5.70" fill="#4D4D4D" stroke="#4D4D4D" stroke-width="0.20">-80</text>
<text transform="translate(153.45,437.80) scale(1,1.050)" text-anchor="middle" font-size="7.00" fill="#000" stroke="#000" stroke-width="0.20">Longitude</text>
<text transform="translate(6.40,329.80) rotate(-90)" text-anchor="middle" font-size="7.00" fill="#000" textLength="73.0" lengthAdjust="spacingAndGlyphs">Cancer incidence rate</text>
<text transform="translate(293.80,308.90) scale(1,1.050)" font-size="7.00" fill="#000" stroke="#000" stroke-width="0.20">Time Zone</text>
<rect x="293.30" y="312.60" width="11.5" height="44.6" fill="#F5F5F5"/>
<line x1="294.40" y1="318.20" x2="303.60" y2="318.20" stroke="#18E6DA" stroke-width="2.6"/>
<text transform="translate(308.10,320.25) scale(1,1.050)" font-size="5.70" fill="#000" stroke="#000" stroke-width="0.20">CT</text>
<line x1="294.40" y1="329.30" x2="303.60" y2="329.30" stroke="#64A60A" stroke-width="2.6"/>
<text transform="translate(308.10,331.35) scale(1,1.050)" font-size="5.70" fill="#000" stroke="#000" stroke-width="0.20">ET</text>
<line x1="294.40" y1="340.40" x2="303.60" y2="340.40" stroke="#F25A55" stroke-width="2.6"/>
<text transform="translate(308.10,342.45) scale(1,1.050)" font-size="5.70" fill="#000" stroke="#000" stroke-width="0.20">MT</text>
<line x1="294.40" y1="351.50" x2="303.60" y2="351.50" stroke="#0A0AEE" stroke-width="2.6"/>
<text transform="translate(308.10,353.55) scale(1,1.050)" font-size="5.70" fill="#000" stroke="#000" stroke-width="0.20">PT</text>
<text transform="translate(0.40,440.00) scale(1,1.050)" font-weight="bold" font-size="14.40" fill="#000">C</text>
<clipPath id="clipD"><rect x="372.60" y="238.00" width="262.60" height="184.00"/></clipPath>
<rect x="372.60" y="238.00" width="262.60" height="184.00" fill="#E5E5E5"/>
<g clip-path="url(#clipD)"><line x1="444.70" y1="238.00" x2="444.70" y2="422.00" stroke="#ECECEC" stroke-width="0.8"/><line x1="528.70" y1="238.00" x2="528.70" y2="422.00" stroke="#ECECEC" stroke-width="0.8"/><line x1="612.70" y1="238.00" x2="612.70" y2="422.00" stroke="#ECECEC" stroke-width="0.8"/><line x1="372.60" y1="257.71" x2="635.20" y2="257.71" stroke="#ECECEC" stroke-width="0.8"/><line x1="372.60" y1="305.20" x2="635.20" y2="305.20" stroke="#ECECEC" stroke-width="0.8"/><line x1="372.60" y1="352.69" x2="635.20" y2="352.69" stroke="#ECECEC" stroke-width="0.8"/><line x1="372.60" y1="400.19" x2="635.20" y2="400.19" stroke="#ECECEC" stroke-width="0.8"/><line x1="402.70" y1="238.00" x2="402.70" y2="422.00" stroke="#F5F5F5" stroke-width="1.2"/><line x1="486.70" y1="238.00" x2="486.70" y2="422.00" stroke="#F5F5F5" stroke-width="1.2"/><line x1="570.70" y1="238.00" x2="570.70" y2="422.00" stroke="#F5F5F5" stroke-width="1.2"/><line x1="372.60" y1="281.46" x2="635.20" y2="281.46" stroke="#F5F5F5" stroke-width="1.2"/><line x1="372.60" y1="328.95" x2="635.20" y2="328.95" stroke="#F5F5F5" stroke-width="1.2"/><line x1="372.60" y1="376.44" x2="635.20" y2="376.44" stroke="#F5F5F5" stroke-width="1.2"/>
<path d="M384.60 322.40h0M389.87 322.59h0M394.41 325.08h0M399.24 322.89h0M404.01 320.52h0M409.15 319.48h0M413.90 321.82h0M418.10 325.10h0" fill="none" stroke="#0A0AEE" stroke-width="1.70" stroke-linecap="round"/>
<path d="M384.60 412.90h0M387.97 408.93h0M392.20 411.32h0M397.21 411.04h0M401.07 407.52h0M405.56 404.88h0M410.70 405.31h0M415.34 407.68h0M419.00 411.40h0" fill="none" stroke="#0A0AEE" stroke-width="1.70" stroke-linecap="round"/>
<path d="M416.40 307.10h0M419.27 311.63h0M422.76 315.70h0M426.69 319.30h0M430.93 316.52h0M434.60 312.60h0M437.94 308.41h0M442.28 309.29h0M445.90 313.23h0M451.06 313.43h0M455.81 310.97h0M461.08 310.85h0M465.81 313.33h0M470.94 313.07h0M472.41 307.95h0M473.90 302.80h0" fill="none" stroke="#F25A55" stroke-width="1.70" stroke-linecap="round"/>
<path d="M416.40 406.90h0M419.14 402.39h0M423.84 400.28h0M428.89 398.74h0M433.84 397.03h0M437.23 393.01h0M439.60 388.29h0M441.96 383.57h0M444.63 379.01h0M447.36 374.49h0M451.32 371.02h0M455.25 367.51h0M460.38 367.20h0M463.65 371.24h0M467.15 367.93h0M468.00 362.72h0M469.11 357.55h0M470.17 352.38h0M471.30 347.22h0M472.60 342.10h0" fill="none" stroke="#F25A55" stroke-width="1.70" stroke-linecap="round"/>
<path d="M476.80 318.20h0M482.11 317.61h0M487.45 317.32h0M492.77 316.88h0M497.98 317.98h0M502.77 320.33h0M507.47 322.86h0M512.62 324.24h0M517.95 324.51h0M523.25 323.89h0M528.35 322.41h0M533.57 323.05h0M538.89 323.51h0M544.11 324.52h0M549.10 322.70h0" fill="none" stroke="#18E6DA" stroke-width="1.70" stroke-linecap="round"/>
<path d="M476.80 338.50h0M481.52 335.97h0M486.57 334.17h0M491.88 333.60h0M497.23 333.89h0M502.48 334.89h0M507.28 337.26h0M512.41 338.71h0M517.75 339.05h0M523.06 338.42h0M528.33 337.41h0M533.59 336.39h0M538.89 336.90h0M544.16 337.87h0M549.50 338.10h0" fill="none" stroke="#18E6DA" stroke-width="1.70" stroke-linecap="round"/>
<path d="M539.60 331.70h0M543.96 328.51h0M548.23 325.21h0M552.41 321.78h0M556.83 318.70h0M561.55 316.08h0M566.62 314.23h0M571.94 313.36h0M577.33 313.14h0M582.73 313.01h0M588.03 312.17h0M592.47 309.15h0M596.28 305.33h0M599.62 301.09h0M602.61 296.59h0M605.72 292.18h0M608.63 287.64h0M610.67 282.64h0M612.41 277.53h0M614.18 272.43h0M615.81 267.28h0M617.21 262.07h0M618.82 256.91h0M620.89 251.93h0M623.10 247.00h0" fill="none" stroke="#64A60A" stroke-width="1.70" stroke-linecap="round"/>
<path d="M539.60 352.10h0M543.16 348.18h0M546.77 344.31h0M550.41 340.46h0M554.29 336.87h0M558.79 334.10h0M563.34 331.39h0M567.81 328.56h0M572.98 327.89h0M578.26 328.05h0M583.55 327.78h0M588.75 326.83h0M593.62 324.79h0M597.82 321.58h0M601.75 318.04h0M605.46 314.26h0M609.19 310.51h0M612.94 306.76h0M616.72 303.05h0M620.31 299.17h0M623.70 295.10h0" fill="none" stroke="#64A60A" stroke-width="1.70" stroke-linecap="round"/>
<path d="M384.5,346.5 C384.9,346.2 386.1,344.8 387.0,344.5 C387.9,344.2 389.0,344.2 390.0,344.5 C391.0,344.8 392.1,346.2 393.2,346.2 C394.4,346.2 395.7,345.1 397.0,344.5 C398.3,343.9 399.7,343.0 401.2,342.5 C402.8,342.0 404.6,341.5 406.2,341.2 C407.9,341.0 409.6,341.0 411.2,341.2 C412.9,341.5 414.6,341.9 416.2,342.5 C417.9,343.1 420.4,344.6 421.2,345.0" fill="none" stroke="#0A0AEE" stroke-width="3.10" stroke-linejoin="round"/>
<path d="M416.4,339.4 C417.5,338.7 420.6,336.4 422.9,335.0 C425.2,333.6 427.9,332.2 430.4,331.1 C432.9,330.0 435.4,328.9 437.9,328.1 C440.4,327.4 442.9,327.5 445.4,326.6 C447.9,325.8 450.6,324.3 452.9,323.0 C455.2,321.7 457.4,319.2 459.0,318.9 C460.6,318.5 461.2,320.0 462.3,320.9 C463.4,321.8 464.7,323.4 465.9,324.5 C467.1,325.6 468.1,326.3 469.5,327.2 C470.9,328.1 473.3,329.5 474.1,330.0" fill="none" stroke="#F25A55" stroke-width="3.10" stroke-linejoin="round"/>
<path d="M475.9,329.6 C476.9,329.4 480.2,328.5 482.2,328.2 C484.2,327.9 485.7,327.7 487.7,327.6 C489.7,327.5 492.1,327.4 494.1,327.6 C496.1,327.9 497.9,328.5 499.5,329.1 C501.1,329.7 502.3,330.4 504.0,331.2 C505.7,331.9 507.7,333.1 509.5,333.6 C511.3,334.1 513.2,334.2 515.0,334.2 C516.8,334.2 518.4,333.9 520.4,333.6 C522.4,333.3 525.0,332.5 526.8,332.3 C528.6,332.1 529.6,332.5 531.3,332.7 C532.9,332.9 534.9,333.4 536.7,333.6 C538.5,333.9 540.1,334.1 542.2,334.2 C544.3,334.3 548.3,334.2 549.5,334.2" fill="none" stroke="#18E6DA" stroke-width="3.10" stroke-linejoin="round"/>
<path d="M539.6,344.6 C540.8,343.4 544.1,339.4 546.5,337.1 C548.9,334.9 551.5,332.9 554.0,331.1 C556.5,329.4 559.0,328.0 561.5,326.6 C564.0,325.2 566.5,323.6 569.0,323.0 C571.5,322.4 574.0,322.8 576.5,323.0 C579.0,323.2 581.6,324.6 584.1,324.2 C586.6,323.8 589.4,322.2 591.6,320.6 C593.9,319.0 595.6,316.9 597.6,314.6 C599.6,312.4 601.6,309.9 603.6,307.1 C605.6,304.4 607.6,301.4 609.6,298.1 C611.6,294.8 613.4,291.5 615.6,287.5 C617.9,283.5 621.9,276.2 623.1,274.0" fill="none" stroke="#64A60A" stroke-width="3.10" stroke-linejoin="round"/>
</g>
<line x1="370.40" y1="281.46" x2="372.60" y2="281.46" stroke="#333" stroke-width="0.80"/>
<text transform="translate(369.50,283.81) scale(1,1.050)" text-anchor="end" font-size="5.70" fill="#4D4D4D" stroke="#4D4D4D" stroke-width="0.20">30</text>
<line x1="370.40" y1="328.95" x2="372.60" y2="328.95" stroke="#333" stroke-width="0.80"/>
<text transform="translate(369.50,331.30) scale(1,1.050)" text-anchor="end" font-size="5.70" fill="#4D4D4D" stroke="#4D4D4D" stroke-width="0.20">0</text>
<line x1="370.40" y1="376.44" x2="372.60" y2="376.44" stroke="#333" stroke-width="0.80"/>
<text transform="translate(369.50,378.79) scale(1,1.050)" text-anchor="end" font-size="5.70" fill="#4D4D4D" stroke="#4D4D4D" stroke-width="0.20">-30</text>
<line x1="402.70" y1="422.00" x2="402.70" y2="424.20" stroke="#333" stroke-width="0.80"/>
<text transform="translate(402.70,429.90) scale(1,1.050)" text-anchor="middle" font-size="5.70" fill="#4D4D4D" stroke="#4D4D4D" stroke-width="0.20">-120</text>
<line x1="486.70" y1="422.00" x2="486.70" y2="424.20" stroke="#333" stroke-width="0.80"/>
<text transform="translate(486.70,429.90) scale(1,1.050)" text-anchor="middle" font-size="5.70" fill="#4D4D4D" stroke="#4D4D4D" stroke-width="0.20">-100</text>
<line x1="570.70" y1="422.00" x2="570.70" y2="424.20" stroke="#333" stroke-width="0.80"/>
<text transform="translate(570.70,429.90) scale(1,1.050)" text-anchor="middle" font-size="5.70" fill="#4D4D4D" stroke="#4D4D4D" stroke-width="0.20">-80</text>
<text transform="translate(503.90,438.00) scale(1,1.050)" text-anchor="middle" font-size="7.00" fill="#000" stroke="#000" stroke-width="0.20">Longitude</text>
<text transform="translate(358.50,330.00) rotate(-90)" text-anchor="middle" font-size="7.00" fill="#000" textLength="73.0" lengthAdjust="spacingAndGlyphs">Cancer incidence rate</text>
<text transform="translate(646.00,308.60) scale(1,1.050)" font-size="7.00" fill="#000" stroke="#000" stroke-width="0.20">Time Zone</text>
<rect x="645.50" y="312.60" width="11.5" height="44.6" fill="#F5F5F5"/>
<line x1="646.60" y1="318.20" x2="655.80" y2="318.20" stroke="#64A60A" stroke-width="2.6"/>
<text transform="translate(660.30,320.25) scale(1,1.050)" font-size="5.70" fill="#000" stroke="#000" stroke-width="0.20">ET</text>
<line x1="646.60" y1="329.30" x2="655.80" y2="329.30" stroke="#18E6DA" stroke-width="2.6"/>
<text transform="translate(660.30,331.35) scale(1,1.050)" font-size="5.70" fill="#000" stroke="#000" stroke-width="0.20">CT</text>
<line x1="646.60" y1="340.40" x2="655.80" y2="340.40" stroke="#F25A55" stroke-width="2.6"/>
<text transform="translate(660.30,342.45) scale(1,1.050)" font-size="5.70" fill="#000" stroke="#000" stroke-width="0.20">MT</text>
<line x1="646.60" y1="351.50" x2="655.80" y2="351.50" stroke="#0A0AEE" stroke-width="2.6"/>
<text transform="translate(660.30,353.55) scale(1,1.050)" font-size="5.70" fill="#000" stroke="#000" stroke-width="0.20">PT</text>
<text transform="translate(345.60,440.00) scale(1,1.050)" font-weight="bold" font-size="14.40" fill="#000">D</text>
</svg>
</body></html>
